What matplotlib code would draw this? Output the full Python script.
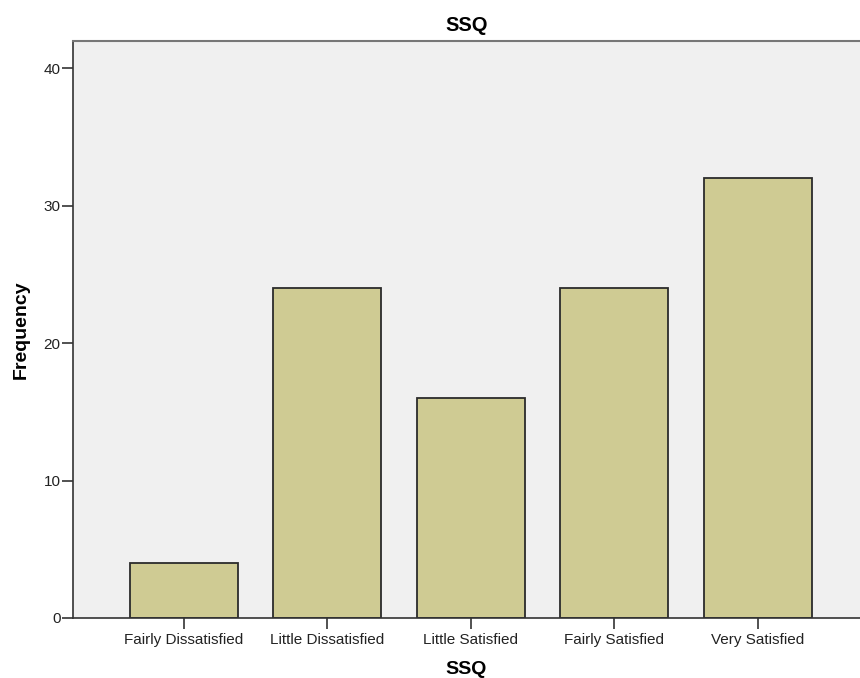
import matplotlib
matplotlib.use('Agg')
import matplotlib.pyplot as plt

categories = ['Fairly Dissatisfied', 'Little Dissatisfied', 'Little Satisfied',
              'Fairly Satisfied', 'Very Satisfied']
frequency = [4, 24, 16, 24, 32]
y_ticks = [0, 10, 20, 30, 40]

plt.rcParams['font.family'] = ['Liberation Sans', 'DejaVu Sans']

fig = plt.figure(figsize=(8.6, 6.78), dpi=100)
ax = fig.add_axes([0.0849, 0.0885, 0.915, 0.851])
ax.set_facecolor('#f0f0f0')

x = list(range(len(categories)))
ax.bar(x, frequency, width=0.753, color='#cfcb93', edgecolor='#2b2b2b', linewidth=1.3)

ax.set_xlim(-0.774, 4.714)
ax.set_ylim(0, 42)
ax.set_xticks(x)
ax.set_xticklabels(categories, fontsize=11, color='#222222')
ax.set_yticks(y_ticks)
ax.set_yticklabels([str(v) for v in y_ticks], fontsize=11, color='#222222')
ax.tick_params(axis='both', direction='out', length=8, width=1.2, color='#333333')
ax.tick_params(axis='x', pad=3)
ax.tick_params(axis='y', pad=1)

ax.spines['right'].set_visible(False)
ax.spines['top'].set_color('#777777')
ax.spines['top'].set_linewidth(1.5)
ax.spines['left'].set_color('#333333')
ax.spines['bottom'].set_color('#333333')
ax.spines['left'].set_linewidth(1.2)
ax.spines['bottom'].set_linewidth(1.2)

ax.set_title('SSQ', fontsize=14.5, fontweight='bold', pad=7)
ax.set_xlabel('SSQ', fontsize=14, fontweight='bold', labelpad=10)
ax.set_ylabel('Frequency', fontsize=14, fontweight='bold', labelpad=10)

fig.savefig('out.png', dpi=100)
